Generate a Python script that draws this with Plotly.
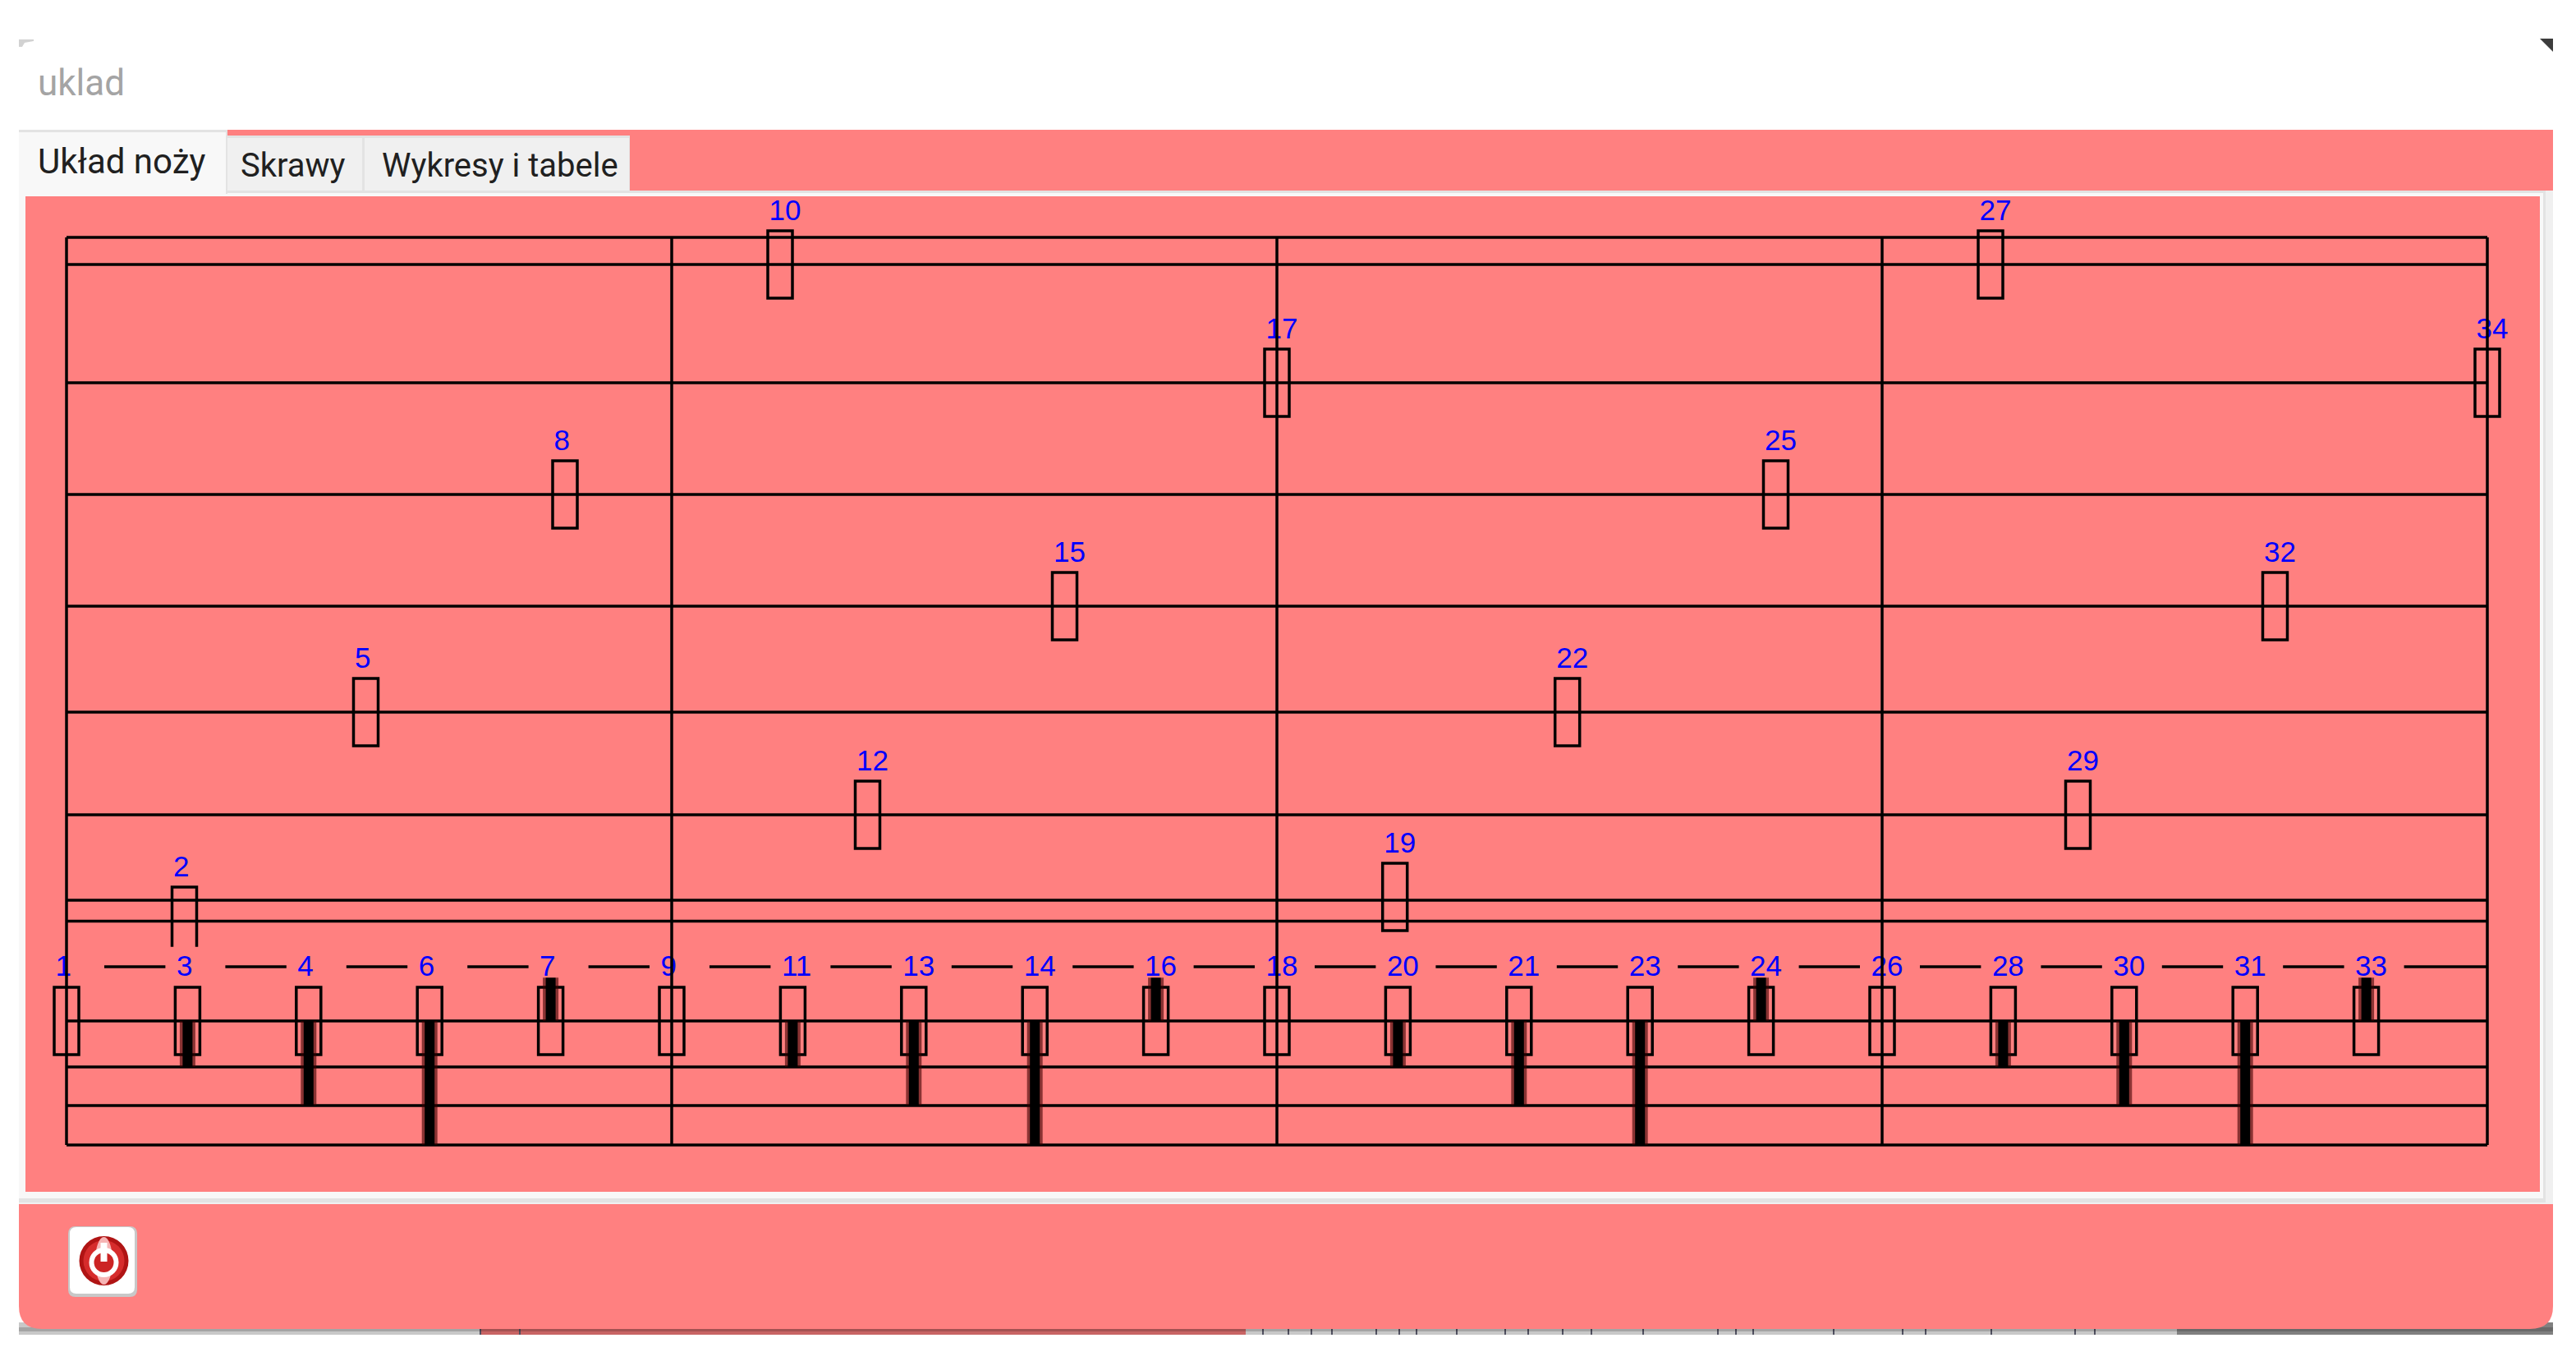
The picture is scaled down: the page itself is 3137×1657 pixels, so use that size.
import plotly.graph_objects as go

# knives on the lower row
lower_labels = ['1', '3', '4', '6', '7', '9', '11', '13', '14', '16', '18', '20', '21', '23', '24', '26', '28', '30', '31', '33']
lower_x = [81, 228.4, 375.8, 523.2, 670.6, 818, 965.4, 1112.8, 1260.2, 1407.6, 1555, 1702.4, 1849.8, 1997.2, 2144.6, 2292,
           2439.4, 2586.8, 2734.2, 2881.6]
cut_depth = [0, 56, 103, 151, -53, 0, 56, 103, 151, -53, 0, 56, 103, 151, -53, 0, 56, 103, 151, -53]

# knives placed higher up
upper_labels = ['2', '5', '8', '10', '12', '15', '17', '19', '22', '25', '27', '29', '32', '34']
upper_x = [224.5, 445.5, 688, 950, 1056.5, 1296.5, 1555, 1698.7, 1908.7, 2162.5, 2424, 2530.5, 2770.5, 3029]
upper_y = [1121, 867, 602, 322, 992, 738, 466, 1092, 867, 602, 322, 992, 738, 466]

# grid
frame_x = [81, 818, 1555, 2292, 3029]
frame_top = 289
frame_bottom = 1394
level_y = [289, 322, 466, 602, 738, 867, 992, 1096, 1121.5, 1177, 1243, 1299, 1346, 1394]
lower_y = 1243
dash_y = 1177

# bits of the window that sits behind the dialog
strip_ticks = [585, 633, 1538, 1569, 1597, 1622, 1676, 1704, 1725, 1774, 1833, 1861, 1903, 1938, 2001, 2092, 2114, 2135,
               2233, 2317, 2345, 2425, 2527, 2551]

PINK = '#ff8080'
W = 3137
H = 1657


def rect(x0, y0, x1, y1, fill, line=None, width=0, layer='below'):
    return dict(type='rect', xref='x', yref='y', x0=x0, y0=y0, x1=x1, y1=y1, fillcolor=fill,
                line=dict(color=line or fill, width=width), layer=layer)


def circle(cx, cy, r, fill):
    return dict(type='circle', xref='x', yref='y', x0=cx - r, y0=cy - r, x1=cx + r, y1=cy + r, fillcolor=fill,
                line=dict(width=0), layer='below')


def path(d, fill):
    return dict(type='path', xref='x', yref='y', path=d, fillcolor=fill, line=dict(width=0), layer='below')


def round_box(x0, y0, x1, y1, r):
    return (f'M {x0 + r} {y0} L {x1 - r} {y0} Q {x1} {y0} {x1} {y0 + r} L {x1} {y1 - r} Q {x1} {y1} {x1 - r} {y1} '
            f'L {x0 + r} {y1} Q {x0} {y1} {x0} {y1 - r} L {x0} {y0 + r} Q {x0} {y0} {x0 + r} {y0} Z')


def window_shapes():
    """window_shapes
    Dialog chrome: bands, tabs, panel, button and the strip below the dialog.

    :return: list of layout shapes
    """
    shapes = []
    # strip below the dialog
    shapes.append(rect(23, 1610, 584, 1625, '#c8c8c8'))
    shapes.append(rect(584, 1610, 1517, 1625, '#c86464'))
    shapes.append(rect(1517, 1610, 2651, 1625, '#c8c8c8'))
    shapes.append(rect(2651, 1610, 3109, 1625, '#808080'))
    for t in strip_ticks:
        shapes.append(rect(t - 1, 1618, t + 1, 1625, '#505060'))
    shapes.append(rect(23, 1616, 3109, 1621, 'rgba(0,0,0,0.18)'))
    # lower pink band
    shapes.append(path('M 23 1466 L 3109 1466 L 3109 1590 Q 3109 1618 3081 1618 L 51 1618 Q 23 1618 23 1590 Z', PINK))
    # panel
    shapes.append(rect(23, 232, 3109, 1466, '#f0f0f0'))
    shapes.append(rect(23, 232, 3100, 1464, '#e3e3e3'))
    shapes.append(rect(23, 235, 3097, 1459, '#f8f8f8'))
    shapes.append(rect(31, 239, 3093, 1451, PINK))
    # upper pink band with tabs
    shapes.append(rect(23, 158, 3109, 232, PINK))
    shapes.append(rect(23, 158, 277, 236, '#e3e3e3'))
    shapes.append(rect(23, 161, 275, 236, '#f8f8f8'))
    shapes.append(rect(275, 165, 442, 235, '#e3e3e3'))
    shapes.append(rect(277, 168, 441, 232, '#f0f0f0'))
    shapes.append(rect(442, 165, 767, 235, '#e3e3e3'))
    shapes.append(rect(444, 168, 766, 232, '#f0f0f0'))
    # corners of the white title area
    shapes.append(path('M 23 48 L 41 48 L 41 50 L 30 52 L 27 57 L 23 57 Z', '#d2d2d2'))
    shapes.append(path('M 3093 47 L 3109 47 L 3109 63 Z', '#3c3c3c'))
    # power button
    shapes.append(path(round_box(83, 1493, 167, 1579, 9), '#c8c8c8'))
    shapes.append(path(round_box(85, 1494, 164, 1575, 8), '#ffffff'))
    shapes.append(circle(126.5, 1535, 30, '#b01414'))
    shapes.append(circle(126.5, 1535, 25, '#d62c2c'))
    shapes.append(dict(type='circle', xref='x', yref='y', x0=116, y0=1506, x1=137, y1=1564,
                       fillcolor='#f6b4b4', line=dict(width=0), layer='below'))
    shapes.append(circle(126.5, 1537, 18, '#ffffff'))
    shapes.append(circle(126.5, 1537, 12, '#cc2424'))
    shapes.append(rect(122.5, 1513, 130.5, 1536, '#ffffff'))
    return shapes


def knife_shapes():
    """knife_shapes
    Horizontal levels and knife outlines. They stay under the bar layer so the
    gaps behind the lower labels cover them.

    :return: list of layout shapes
    """
    shapes = []
    for y in level_y:
        shapes.append(dict(type='line', xref='x', yref='y', x0=frame_x[0], x1=frame_x[-1], y0=y, y1=y,
                           line=dict(color='black', width=3.5), layer='below'))
    for x, y in zip(upper_x, upper_y):
        shapes.append(rect(x - 15, y - 41, x + 15, y + 41, 'rgba(0,0,0,0)', 'black', 3.5))
    for x in lower_x:
        shapes.append(rect(x - 15, lower_y - 41, x + 15, lower_y + 41, 'rgba(0,0,0,0)', 'black', 3.5))
    return shapes


def create_plot():
    fig = go.Figure()

    # cut depth of every knife, soft edge first
    fig.add_trace(go.Bar(x=lower_x, y=cut_depth, base=lower_y, width=19, marker=dict(color='rgba(60,0,0,0.6)', line=dict(width=0))))
    fig.add_trace(go.Bar(x=lower_x, y=cut_depth, base=lower_y, width=12, marker=dict(color='black', line=dict(width=0))))
    # pink gap behind the lower labels
    gap_x = [x + 9.5 for x in lower_x]
    fig.add_trace(go.Bar(x=gap_x, y=[37.5] * len(gap_x), base=1152.7, width=73, marker=dict(color=PINK, line=dict(width=0))))

    # labels
    label_x = [x - 13.5 for x in upper_x] + [x - 13.5 for x in lower_x]
    label_y = [y - 63 for y in upper_y] + [dash_y + 2] * len(lower_x)
    fig.add_trace(go.Scatter(x=label_x, y=label_y, text=upper_labels + lower_labels, mode='text', textposition='middle right',
                             textfont=dict(family='Liberation Sans', size=35, color='#0000ff')))

    # vertical frame lines go over the labels
    vx = []
    vy = []
    for x in frame_x:
        vx += [x, x, None]
        vy += [frame_top, frame_bottom, None]
    fig.add_trace(go.Scatter(x=vx, y=vy, mode='lines', line=dict(color='black', width=3.5)))

    fig.update_layout(
        width=W, height=H, margin=dict(l=0, r=0, t=0, b=0, pad=0), showlegend=False,
        paper_bgcolor='white', plot_bgcolor='white', barmode='overlay', hovermode=False,
        shapes=window_shapes() + knife_shapes(),
        xaxis=dict(range=[0, W], visible=False, fixedrange=True),
        yaxis=dict(range=[H, 0], visible=False, fixedrange=True),
    )

    # window texts
    texts = [('uklad', 44, 101, '#a4a4a4', 44), ('Układ noży', 44, 196, '#202020', 42), ('Skrawy', 291, 201, '#202020', 40),
             ('Wykresy i tabele', 463, 201, '#202020', 40)]
    for t, x, y, c, s in texts:
        fig.add_annotation(x=x, y=y, text=t, xref='x', yref='y', showarrow=False, xanchor='left', yanchor='middle',
                           font=dict(family='Roboto', size=s, color=c))

    fig.write_html('out.html', config=dict(displayModeBar=False), post_script="document.body.style.margin='0';document.body.style.overflow='hidden';")


def main():
    create_plot()


if __name__ == '__main__':
    main()
